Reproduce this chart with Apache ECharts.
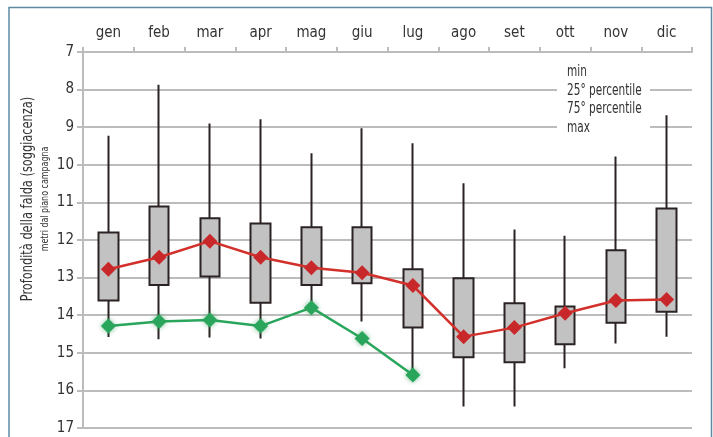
<!DOCTYPE html>
<html>
<head>
<meta charset="utf-8">
<script src="https://cdn.jsdelivr.net/npm/echarts@6/dist/echarts.min.js"></script>
<style>
  html, body { margin: 0; padding: 0; background: #fff; }
  #chart { width: 713px; height: 437px; }
</style>
</head>
<body>
<div id="chart"></div>
<script>
// mesi
var months = ['gen', 'feb', 'mar', 'apr', 'mag', 'giu', 'lug', 'ago', 'set', 'ott', 'nov', 'dic'];
// profondità (m dal piano campagna)
var minDepth = [9.23, 7.87, 8.9, 8.79, 9.69, 9.03, 9.43, 10.49, 11.72, 11.89, 9.78, 8.68];
var p25 = [11.8, 11.11, 11.42, 11.56, 11.66, 11.66, 12.78, 13.02, 13.68, 13.77, 12.27, 11.16];
var p75 = [13.61, 13.2, 12.97, 13.67, 13.2, 13.15, 14.33, 15.12, 15.25, 14.77, 14.2, 13.91];
var maxDepth = [14.58, 14.64, 14.59, 14.62, 13.75, 14.17, 15.55, 16.43, 16.43, 15.41, 14.75, 14.57];
var redLine = [12.78, 12.46, 12.03, 12.46, 12.74, 12.87, 13.21, 14.57, 14.33, 13.95, 13.61, 13.58];
var greenLine = [14.29, 14.17, 14.13, 14.29, 13.8, 14.62, 15.59, null, null, null, null, null];
var yTicks = [7, 17, 1];
var legendLines = ['min', '25° percentile', '75° percentile', 'max'];

var font = "'Liberation Sans Narrow', 'DejaVu Sans Condensed', sans-serif";
var gridGray = '#bcbcbc';

var boxData = [];
months.forEach(function (m, i) {
    boxData.push([p25[i], p75[i], minDepth[i], maxDepth[i]]);
});

var myChart = echarts.init(document.getElementById('chart'));

var option = {
    backgroundColor: '#fff',
    animation: false,
    grid: { left: 83, right: 21, top: 52, bottom: 9 },
    xAxis: {
        type: 'category',
        position: 'top',
        data: months,
        boundaryGap: true,
        axisLine: { show: true, lineStyle: { color: gridGray, width: 2 } },
        axisTick: { show: true, length: 5, lineStyle: { color: gridGray, width: 2 } },
        axisLabel: { color: '#333', fontSize: 15, fontFamily: font, margin: 11 },
        splitLine: { show: false }
    },
    yAxis: {
        type: 'value',
        inverse: true,
        min: yTicks[0],
        max: yTicks[1],
        interval: yTicks[2],
        axisLine: { show: true, lineStyle: { color: gridGray, width: 2 } },
        axisTick: { show: true, length: 6, lineStyle: { color: gridGray, width: 2 } },
        axisLabel: { color: '#333', fontSize: 15, fontFamily: font, margin: 9 },
        splitLine: { show: true, lineStyle: { color: gridGray, width: 2 } }
    },
    graphic: [
        // cornice
        { type: 'polyline', shape: { points: [[9, 437], [9, 7.5], [711.5, 7.5], [711.5, 437]] },
          style: { stroke: '#5f8aa2', lineWidth: 1.5, fill: null }, z: 100 },
        // legenda
        { type: 'rect', shape: { x: 557, y: 62, width: 93, height: 78 },
          style: { fill: '#fff' }, z: 50 },
        { type: 'text', x: 567, y: 63, scaleX: 0.78, z: 51,
          style: { text: legendLines.join('\n'), fill: '#333', fontSize: 15, fontFamily: font, lineHeight: 18.5 } },
        // titolo asse
        { type: 'text', x: 28, y: 199, rotation: Math.PI / 2, scaleX: 0.79, z: 51,
          style: { text: 'Profondità della falda (soggiacenza)', fill: '#333', fontSize: 16, fontFamily: font,
                   align: 'center', verticalAlign: 'middle' } },
        { type: 'text', x: 45, y: 199, rotation: Math.PI / 2, scaleX: 0.84, z: 51,
          style: { text: 'metri dal piano campagna', fill: '#333', fontSize: 10.5, fontFamily: font,
                   align: 'center', verticalAlign: 'middle' } }
    ],
    series: [
        {
            type: 'candlestick',
            barWidth: 20,
            data: boxData,
            itemStyle: {
                color: '#c2c2c2',
                color0: '#c2c2c2',
                borderColor: '#2b2323',
                borderColor0: '#2b2323',
                borderWidth: 2
            },
            z: 2
        },
        {
            type: 'line',
            data: redLine,
            symbol: 'diamond',
            symbolSize: 15,
            lineStyle: { color: '#d2302a', width: 2.5 },
            itemStyle: { color: '#c9282a' },
            z: 4
        },
        {
            type: 'line',
            data: greenLine,
            symbol: 'diamond',
            symbolSize: 15,
            lineStyle: { color: '#2aa65c', width: 2.5 },
            itemStyle: { color: '#2aa65c', shadowBlur: 5, shadowColor: 'rgba(40,150,80,0.6)' },
            z: 3
        }
    ]
};

myChart.setOption(option);
</script>
</body>
</html>
